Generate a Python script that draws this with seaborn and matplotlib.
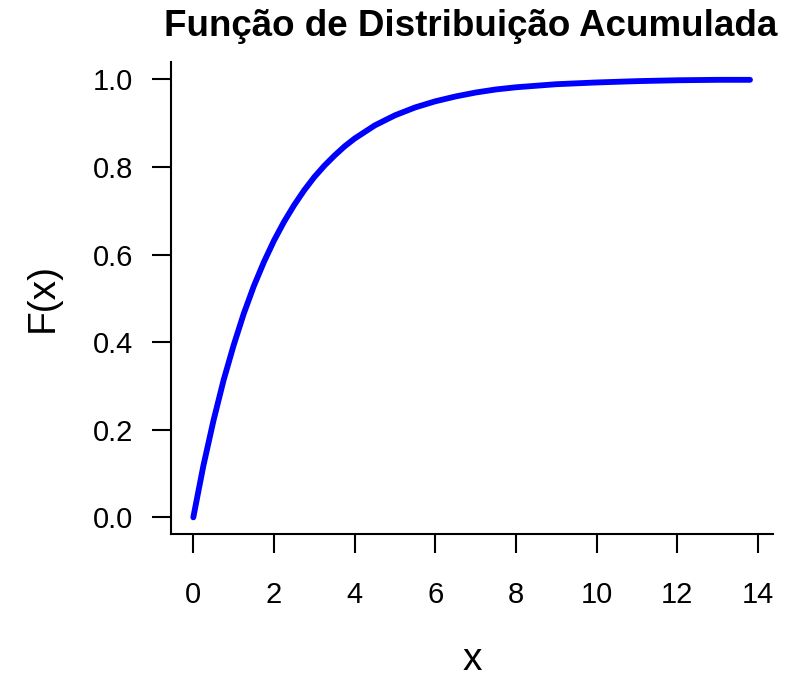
import matplotlib
matplotlib.use("Agg")
import matplotlib.pyplot as plt
import seaborn as sns
import pandas as pd

# Cumulative distribution values along the curve
x_vals = [0.0, 0.25, 0.5, 0.75, 1.0, 1.25, 1.5, 1.75, 2.0, 2.25, 2.5, 2.75,
          3.0, 3.25, 3.5, 3.75, 4.0, 4.5, 5.0, 5.5, 6.0, 6.5, 7.0, 7.5,
          8.0, 9.0, 10.0, 11.0, 12.0, 13.0, 13.8]
f_vals = [0.000, 0.118, 0.221, 0.313, 0.393, 0.465, 0.528, 0.583, 0.632, 0.675,
          0.713, 0.747, 0.777, 0.803, 0.826, 0.847, 0.865, 0.895, 0.918, 0.936,
          0.950, 0.961, 0.970, 0.977, 0.982, 0.989, 0.993, 0.996, 0.998, 0.999,
          0.999]

x_ticks = [0, 2, 4, 6, 8, 10, 12, 14]
y_ticks = [0.0, 0.2, 0.4, 0.6, 0.8, 1.0]
y_tick_labels = ["0.0", "0.2", "0.4", "0.6", "0.8", "1.0"]

title = "Função de Distribuição Acumulada"

df = pd.DataFrame({"x": x_vals, "F": f_vals})

sns.set_theme(style="ticks")
plt.rcParams["font.family"] = ["Liberation Sans", "DejaVu Sans"]

W, H = 787, 678
fig = plt.figure(figsize=(W / 100, H / 100), dpi=100)
ax = fig.add_axes([171 / W, 1 - 534 / H, (773 - 171) / W, (534 - 62) / H])

sns.lineplot(data=df, x="x", y="F", ax=ax, color="#0000ff", linewidth=4.2,
             sort=False, solid_capstyle="round")

ax.set_xlim(-0.553, 14.37)
ax.set_ylim(-0.038, 1.0397)

ax.set_xticks(x_ticks)
ax.set_xticklabels([str(t) for t in x_ticks])
ax.set_yticks(y_ticks)
ax.set_yticklabels(y_tick_labels)

for side in ("top", "right"):
    ax.spines[side].set_visible(False)
for side in ("left", "bottom"):
    ax.spines[side].set_linewidth(1.5)
    ax.spines[side].set_color("black")

ax.tick_params(axis="both", which="major", length=13.7, width=1.5,
               color="black", labelsize=21, labelcolor="black")
ax.tick_params(axis="x", pad=20)
ax.tick_params(axis="y", pad=13.5)

ax.set_xlabel("x", fontsize=28, color="black", va="baseline")
ax.xaxis.set_label_coords(0.5, (534 - 670) / 472)
ax.set_ylabel("F(x)", fontsize=28, color="black", va="center")
ax.yaxis.set_label_coords((43 - 171) / 602, 0.5)

fig.text(471 / W, 1 - 36 / H, title, ha="center", va="baseline",
         fontsize=26.5, fontweight="bold", color="black")

fig.savefig("out.png", dpi=100, facecolor="white")
